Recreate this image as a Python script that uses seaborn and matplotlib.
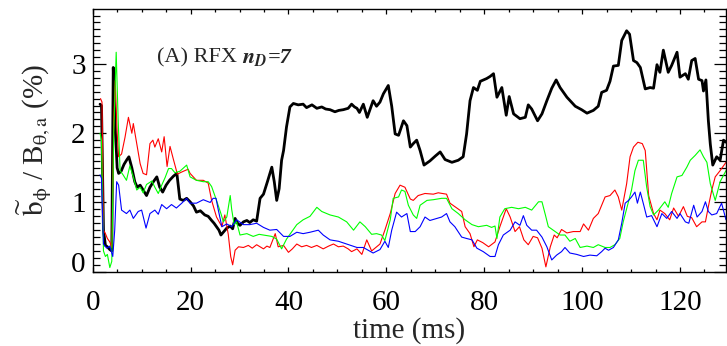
import matplotlib
matplotlib.use("Agg")
import matplotlib.pyplot as plt
import seaborn as sns
import pandas as pd

# ---------------- data ----------------
black_t = [1.5, 1.8, 2.2, 2.6, 3.0, 3.5, 3.9, 4.2, 4.6, 5.0, 5.3, 5.8, 6.4, 7.0, 7.4, 8.0, 8.6, 9.1, 9.7, 10.3,
           11.0, 11.7, 12.4, 13.1, 13.7, 14.3, 15.0, 15.7, 16.5, 17.2, 17.8, 18.5, 19.2, 19.9, 20.6, 21.2, 22.0,
           22.9, 23.6, 24.3, 24.8, 25.3, 25.8, 26.2, 26.8, 27.4, 28.1, 28.6, 29.1, 29.6, 30.1, 30.8, 31.5, 32.1,
           32.8, 33.5, 34.2, 34.9, 35.7, 36.6, 37.1, 37.6, 38.1, 38.6, 39.0, 39.6, 40.3, 41.0, 42.0, 43.0, 43.7,
           44.8, 45.8, 46.8, 47.6, 48.5, 49.5, 50.3, 51.2, 52.2, 52.9, 53.5, 54.0, 54.5, 55.3, 56.1, 56.7, 57.3,
           58.0, 58.7, 59.4, 60.4, 61.1, 61.8, 62.5, 63.5, 64.2, 64.9, 65.5, 66.2, 66.9, 67.7, 68.9, 70.0, 71.0,
           72.0, 73.4, 74.7, 75.7, 76.4, 77.1, 77.8, 78.6, 79.2, 80.5, 81.2, 81.9, 82.6, 83.6, 84.5, 85.1, 86.0,
           87.3, 88.4, 89.0, 89.7, 90.9, 91.8, 92.8, 93.8, 94.7, 95.5, 96.9, 98.6, 99.9, 101.0, 102.3, 103.3,
           104.0, 105.0, 105.7, 106.4, 107.4, 108.1, 109.1, 109.7, 110.5, 111.2, 111.9, 112.9, 113.9, 114.6,
           115.3, 115.9, 116.6, 117.6, 118.3, 119.4, 120.0, 121.1, 121.7, 122.4, 123.1, 123.8, 124.5, 124.8,
           125.3, 125.8, 126.2, 126.7, 127.5, 128.2, 128.9, 129.4]
black_v = [2.42, 2.40, 0.60, 0.38, 0.36, 0.32, 0.30, 2.95, 2.10, 1.50, 1.42, 1.45, 1.55, 1.62, 1.66, 1.50, 1.30,
           1.22, 1.25, 1.18, 1.10, 1.22, 1.30, 1.37, 1.22, 1.15, 1.25, 1.32, 1.38, 1.42, 1.05, 1.03, 1.06, 1.01,
           0.95, 0.86, 0.88, 0.82, 0.80, 0.74, 0.70, 0.65, 0.60, 0.53, 0.58, 0.63, 0.66, 0.62, 0.77, 0.70, 0.67,
           0.72, 0.74, 0.71, 0.75, 0.73, 1.06, 1.12, 1.30, 1.51, 1.30, 1.03, 1.20, 1.61, 1.75, 2.09, 2.38, 2.43,
           2.41, 2.42, 2.37, 2.41, 2.36, 2.38, 2.35, 2.34, 2.31, 2.33, 2.34, 2.36, 2.42, 2.38, 2.36, 2.30, 2.42,
           2.23, 2.35, 2.47, 2.39, 2.45, 2.57, 2.69, 2.39, 1.99, 1.97, 2.18, 2.11, 1.80, 1.85, 1.90, 1.75, 1.54,
           1.60, 1.67, 1.73, 1.62, 1.58, 1.61, 1.66, 1.99, 2.47, 2.66, 2.62, 2.75, 2.79, 2.82, 2.86, 2.52, 2.66,
           2.26, 2.53, 2.28, 2.21, 2.23, 2.41, 2.35, 2.18, 2.28, 2.47, 2.65, 2.77, 2.66, 2.52, 2.39, 2.34, 2.29,
           2.33, 2.39, 2.59, 2.62, 2.75, 2.97, 2.98, 3.34, 3.48, 3.43, 3.05, 3.02, 2.95, 2.64, 2.66, 2.65, 2.99,
           2.88, 3.20, 2.88, 2.98, 3.17, 2.81, 2.86, 2.78, 3.05, 3.08, 2.78, 2.76, 2.61, 2.77, 2.18, 1.84, 1.54,
           1.66, 1.61, 1.90, 1.87]

red_t = [1.6, 1.9, 2.2, 2.6, 3.0, 3.5, 3.9, 4.3, 4.6, 5.0, 5.3, 5.9, 6.6, 7.3, 8.0, 8.3, 9.0, 9.7, 10.3, 11.0,
         11.7, 12.3, 12.7, 13.4, 14.1, 14.6, 15.2, 15.8, 16.5, 17.3, 18.5, 19.5, 19.9, 21.2, 22.6, 23.6, 24.3,
         25.3, 26.4, 27.0, 27.7, 28.2, 28.6, 29.1, 29.8, 30.8, 31.8, 32.6, 33.5, 34.2, 34.9, 35.6, 36.2, 37.3,
         37.9, 39.0, 40.0, 40.8, 41.7, 42.7, 43.7, 44.7, 45.8, 47.1, 48.2, 49.2, 50.2, 51.2, 52.2, 52.9, 54.0,
         55.0, 56.0, 57.0, 58.0, 58.7, 59.7, 60.8, 61.8, 62.8, 63.8, 64.9, 65.5, 66.5, 67.9, 69.6, 70.6, 72.3,
         73.0, 74.4, 75.4, 76.1, 77.1, 77.9, 78.6, 79.7, 80.9, 82.2, 83.2, 83.9, 84.5, 85.3, 86.3, 87.2, 88.1,
         89.0, 90.0, 90.9, 91.8, 92.6, 93.5, 94.3, 94.9, 95.8, 96.9, 98.2, 99.6, 100.3, 101.3, 102.3, 103.3,
         104.7, 105.7, 106.7, 107.4, 108.1, 109.1, 109.8, 110.5, 111.4, 112.3, 112.9, 113.6, 114.6, 115.3,
         115.9, 116.9, 117.9, 118.7, 119.7, 120.7, 121.5, 122.4, 123.4, 124.5, 125.2, 125.8, 126.5, 127.2,
         128.2, 129.4]
red_v = [2.50, 2.45, 0.60, 0.55, 0.48, 0.43, 0.35, 2.20, 2.76, 2.00, 1.66, 1.70, 1.94, 2.23, 2.00, 2.14, 1.85,
         1.56, 1.42, 1.40, 1.85, 1.90, 1.80, 1.92, 1.73, 1.95, 1.52, 1.81, 1.62, 1.41, 1.45, 1.48, 1.42, 1.32,
         1.32, 1.28, 1.03, 0.79, 0.65, 0.82, 0.54, 0.22, 0.10, 0.31, 0.36, 0.35, 0.38, 0.34, 0.39, 0.36, 0.33,
         0.37, 0.35, 0.55, 0.36, 0.38, 0.28, 0.33, 0.40, 0.36, 0.38, 0.35, 0.38, 0.33, 0.37, 0.40, 0.36, 0.37,
         0.33, 0.29, 0.33, 0.25, 0.46, 0.30, 0.36, 0.40, 0.60, 0.84, 1.13, 1.25, 1.22, 1.05, 1.03, 1.10, 1.13,
         1.12, 1.14, 1.12, 0.99, 0.92, 0.87, 0.65, 0.55, 0.36, 0.46, 0.42, 0.36, 0.43, 0.65, 0.79, 0.91, 0.79,
         0.58, 0.65, 0.46, 0.39, 0.51, 0.49, 0.34, 0.07, 0.36, 0.53, 0.49, 0.61, 0.56, 0.58, 0.58, 0.69, 0.60,
         0.77, 0.84, 1.08, 1.10, 1.18, 1.08, 0.89, 1.27, 1.66, 1.80, 1.87, 1.85, 1.75, 1.10, 0.84, 0.75, 0.89,
         0.84, 0.75, 0.92, 0.80, 0.94, 0.80, 0.78, 0.65, 0.72, 0.72, 0.94, 1.18, 1.37, 1.46, 1.58]

green_t = [1.5, 1.8, 2.2, 2.6, 3.0, 3.5, 3.9, 4.3, 4.8, 5.2, 5.6, 6.2, 6.9, 7.6, 8.3, 9.0, 9.7, 10.3, 11.0, 12.1,
           12.7, 13.4, 14.1, 14.8, 15.5, 16.1, 16.8, 17.8, 18.9, 19.2, 19.9, 21.2, 22.6, 23.6, 24.3, 25.3, 26.2,
           26.7, 27.4, 28.1, 28.4, 28.9, 29.4, 30.1, 31.5, 32.8, 34.0, 34.9, 36.6, 37.6, 38.6, 39.6, 40.7, 41.7,
           43.0, 44.4, 45.8, 46.8, 48.5, 50.2, 51.9, 53.3, 54.6, 55.7, 57.0, 58.0, 59.0, 59.7, 60.8, 61.4, 62.5,
           63.1, 63.8, 64.5, 65.5, 66.2, 66.9, 68.3, 69.6, 71.3, 72.3, 73.4, 74.7, 76.1, 77.5, 78.8, 80.5, 81.5,
           82.2, 82.6, 83.2, 84.2, 85.6, 87.0, 88.4, 89.7, 91.1, 91.8, 92.5, 93.1, 94.5, 95.5, 96.5, 97.5, 98.6,
           99.6, 101.0, 102.3, 103.3, 104.7, 105.7, 106.7, 107.7, 108.4, 109.1, 110.1, 110.8, 111.5, 112.5,
           113.2, 113.9, 114.6, 115.6, 116.9, 117.6, 118.3, 119.4, 120.4, 121.4, 122.1, 123.1, 124.1, 124.8,
           125.5, 126.2, 127.2, 128.2, 129.4]
green_v = [2.00, 1.90, 0.30, 0.22, 0.25, 0.06, 0.15, 2.00, 3.17, 2.20, 1.46, 1.40, 1.32, 1.53, 1.37, 1.18, 1.22,
           1.14, 1.26, 1.31, 1.22, 1.13, 1.25, 1.36, 1.49, 1.49, 1.43, 1.45, 1.52, 1.54, 1.37, 1.32, 1.30, 1.30,
           1.23, 1.03, 0.84, 0.72, 0.79, 1.10, 0.90, 0.68, 0.72, 0.53, 0.55, 0.51, 0.54, 0.53, 0.51, 0.47, 0.33,
           0.47, 0.58, 0.68, 0.75, 0.80, 0.93, 0.87, 0.82, 0.79, 0.72, 0.60, 0.72, 0.65, 0.54, 0.55, 0.53, 0.45,
           0.75, 1.06, 1.08, 1.18, 1.16, 0.96, 0.82, 0.77, 0.96, 1.03, 1.04, 1.06, 1.06, 0.91, 0.84, 0.75, 0.68,
           0.65, 0.67, 0.64, 0.66, 0.48, 0.79, 0.91, 0.93, 0.91, 0.93, 0.89, 1.01, 1.01, 0.82, 0.65, 0.58, 0.53,
           0.53, 0.44, 0.48, 0.35, 0.37, 0.35, 0.39, 0.35, 0.35, 0.39, 0.48, 0.72, 0.91, 1.18, 1.46, 1.61, 1.61,
           1.22, 0.94, 0.82, 0.89, 1.01, 0.93, 1.13, 1.37, 1.39, 1.51, 1.61, 1.68, 1.76, 1.66, 1.58, 1.27, 1.03,
           1.30, 1.46]

blue_t = [1.5, 1.8, 2.2, 2.9, 3.5, 4.1, 4.5, 4.9, 5.3, 5.9, 6.9, 7.6, 8.3, 9.3, 10.0, 10.9, 11.7, 12.7, 13.4,
          14.1, 15.1, 16.1, 17.1, 18.2, 19.2, 19.9, 21.2, 22.6, 24.0, 24.6, 25.2, 25.7, 26.4, 27.4, 28.4, 29.4,
          30.8, 32.1, 33.5, 34.9, 36.2, 37.6, 39.0, 40.3, 41.7, 43.0, 44.4, 46.1, 47.1, 48.5, 50.2, 51.9, 54.0,
          55.3, 57.3, 58.7, 59.7, 60.4, 61.1, 62.1, 63.1, 64.2, 64.9, 65.9, 66.9, 67.9, 68.9, 70.3, 71.3, 72.3,
          73.0, 74.0, 75.4, 76.4, 77.5, 78.5, 79.8, 81.2, 82.2, 82.9, 83.9, 85.3, 86.3, 87.3, 88.0, 88.7, 89.7,
          90.7, 91.8, 92.8, 93.8, 94.8, 95.8, 96.5, 97.5, 98.9, 100.3, 101.6, 103.0, 104.0, 104.7, 105.4, 106.4,
          107.4, 108.1, 108.8, 109.5, 110.1, 110.8, 111.3, 111.9, 112.6, 113.2, 114.2, 115.3, 116.3, 117.3,
          118.3, 119.4, 120.0, 121.1, 121.8, 122.8, 123.5, 124.5, 125.2, 125.8, 126.5, 127.5, 128.5, 129.4]
blue_v = [1.40, 1.35, 0.40, 0.34, 0.37, 0.22, 0.60, 1.30, 1.25, 0.89, 0.84, 0.89, 0.77, 0.87, 0.89, 0.63, 0.84,
          0.89, 0.83, 0.97, 0.91, 0.97, 0.92, 0.99, 1.06, 0.99, 0.99, 1.04, 1.00, 1.06, 1.06, 0.88, 0.65, 0.69,
          0.65, 0.75, 0.68, 0.68, 0.70, 0.64, 0.60, 0.61, 0.51, 0.51, 0.57, 0.55, 0.57, 0.60, 0.53, 0.46, 0.44,
          0.40, 0.35, 0.35, 0.27, 0.32, 0.44, 0.35, 0.60, 0.86, 0.79, 0.84, 0.58, 0.58, 0.65, 0.79, 0.74, 0.77,
          0.79, 0.84, 0.72, 0.65, 0.50, 0.48, 0.46, 0.34, 0.29, 0.22, 0.22, 0.39, 0.53, 0.60, 0.72, 0.67, 0.81,
          0.67, 0.60, 0.60, 0.50, 0.36, 0.17, 0.24, 0.29, 0.35, 0.27, 0.25, 0.22, 0.24, 0.23, 0.29, 0.34, 0.31,
          0.35, 0.46, 0.70, 0.99, 1.03, 1.08, 1.15, 0.99, 1.15, 0.96, 0.79, 0.81, 0.65, 0.84, 0.77, 0.87, 0.77,
          0.84, 0.72, 0.70, 0.96, 0.79, 0.87, 1.01, 0.87, 0.82, 0.84, 0.99, 0.75]

x_ticks = [0, 20, 40, 60, 80, 100, 120]
y_ticks = [0, 1, 2, 3]
x_label = "time (ms)"
y_label = r"$\widetilde{\mathrm{b}}_{\mathrm{\phi}}$ / B$_{\mathrm{\theta,a}}$ (%)"
annot_parts = ["(A) RFX ", r"$\mathbfit{n}_{\mathbfit{D}}$", "=7"]

# ---------------- style ----------------
sns.set_theme(style="ticks")
plt.rcParams["font.family"] = ["Liberation Serif", "DejaVu Serif"]
plt.rcParams["mathtext.fontset"] = "stix"
plt.rcParams["axes.linewidth"] = 1.0

fig = plt.figure(figsize=(7.27, 3.46), dpi=100)
ax = fig.add_axes([0.1275, 0.2147, 0.8711, 0.7584])

series = [(black_t, black_v, "black", 2.0),
          (red_t, red_v, "#ff0000", 0.8),
          (green_t, green_v, "#00ff00", 0.8),
          (blue_t, blue_v, "#0000ff", 0.8)]
for t, v, c, lw in series:
    df = pd.DataFrame({"t": t, "v": v})
    sns.lineplot(data=df, x="t", y="v", color=c, linewidth=lw, ax=ax,
                 estimator=None, sort=True)

ax.set_xlim(0, 129.4)
ax.set_ylim(0, 3.79)
ax.set_xticks(x_ticks)
ax.set_xticklabels([str(v) for v in x_ticks])
ax.set_yticks(y_ticks)
ax.set_yticklabels([str(v) for v in y_ticks])
ax.xaxis.set_minor_locator(matplotlib.ticker.MultipleLocator(5))
ax.yaxis.set_minor_locator(matplotlib.ticker.MultipleLocator(0.1))

ax.tick_params(axis="both", which="both", direction="in", top=True, right=True,
               colors="black", width=0.9, labelsize=21)
ax.tick_params(axis="x", which="major", length=3.8, pad=13)
ax.tick_params(axis="x", which="minor", length=2.0)
ax.tick_params(axis="y", which="major", length=9.0, pad=5)
ax.tick_params(axis="y", which="minor", length=4.8)

for s in ax.spines.values():
    s.set_color("black")
    s.set_linewidth(1.0)

ax.set_xlabel(x_label, fontsize=21, labelpad=1)
ax.set_ylabel(y_label, fontsize=21, labelpad=12)

# "0" y tick label sits on the axis (baseline alignment) as in the reference
ax.yaxis.get_major_ticks()[0].label1.set_verticalalignment("baseline")

# annotation: plain part, bold-italic n_D, bold-italic "=7" placed one after another
x0, y0 = 13.1, 3.02
styles = [dict(), dict(), dict(fontweight="bold", fontstyle="italic")]
fig.canvas.draw()
inv = ax.transData.inverted()
cur_x = x0
for part, st in zip(annot_parts, styles):
    txt = ax.text(cur_x, y0, part, fontsize=16, ha="left", va="baseline", **st)
    fig.canvas.draw()
    bb = txt.get_window_extent()
    cur_x = inv.transform((bb.x1, bb.y0))[0]

fig.savefig("out.png", dpi=100)
